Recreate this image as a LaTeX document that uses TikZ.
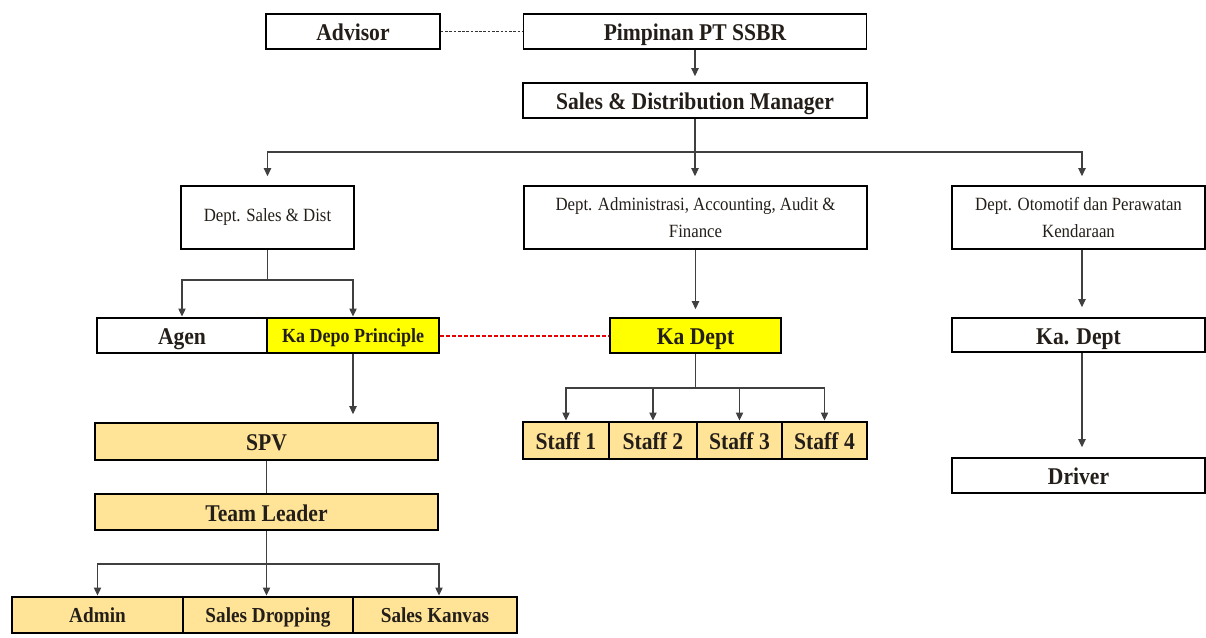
\documentclass[tikz,border=0pt]{standalone}
\usepackage{fontspec}
\setmainfont{Liberation Serif}
\newfontfamily\condf[FakeStretch=0.9]{Liberation Serif}
\usetikzlibrary{arrows.meta,calc}
\definecolor{orgfill}{RGB}{255,227,150}
\definecolor{yelfill}{RGB}{255,255,0}
\definecolor{txt}{RGB}{35,30,25}
\definecolor{dashred}{RGB}{230,0,0}
\begin{document}
\begin{tikzpicture}[x=0.75pt,y=-0.75pt,
  box/.style={draw=black, line width=1.2pt, inner sep=0pt, text=txt,
    text height=17.5pt, text depth=3.5pt,
    font=\condf\bfseries\fontsize{18}{20}\selectfont},
  deptbox/.style={draw=black, line width=1.2pt, inner sep=0pt, text=txt,
    align=center, font=\condf\fontsize{14}{20}\selectfont},
  orgbox/.style={box, fill=orgfill},
  botbox/.style={orgbox, text height=15pt, text depth=3.4pt,
    font=\condf\bfseries\fontsize{16}{18}\selectfont},
  yelbox/.style={box, fill=yelfill},
  conn/.style={draw=black!75, line width=0.8pt},
  arr/.style={conn, -{Triangle[width=5.5pt,length=6pt]}},
  hdash/.style={draw=black!80, line width=0.6pt, dash pattern=on 2pt off 1.2pt},
  rdash/.style={draw=dashred, line width=1.5pt, dash pattern=on 3pt off 1.5pt}]
\useasboundingbox (0,0) rectangle (1206,637);

% top
\node[box, minimum width=130.5pt, minimum height=26.25pt] (adv) at (353,31.5) {Advisor};
\node[box, minimum width=257.25pt, minimum height=26.25pt] (pim) at (695,31.5) {Pimpinan PT SSBR};
\node[box, minimum width=258pt, minimum height=26.25pt] (sdm) at (695,100.5) {Sales \& Distribution Manager};

% departments
\node[deptbox, minimum width=129.75pt, minimum height=47.25pt] (dsales) at (267.5,217.5) {Dept. Sales \& Dist};
\node[deptbox, minimum width=257.25pt, minimum height=47.25pt] (dadm) at (695.5,217.5) {Dept. Administrasi, Accounting, Audit \&\\Finance};
\node[deptbox, minimum width=189.75pt, minimum height=47.25pt] (doto) at (1078.5,217.5) {Dept. Otomotif dan Perawatan\\Kendaraan};

% heads
\node[box, minimum width=127.5pt, minimum height=26.25pt] (agen) at (182,335.5) {Agen};
\node[yelbox, minimum width=129pt, minimum height=26.25pt, text height=14.5pt, text depth=3.5pt, font=\condf\bfseries\fontsize{15}{17}\selectfont] (kadepo) at (353,335.5) {Ka Depo Principle};
\node[yelbox, minimum width=128.25pt, minimum height=26.25pt] (kadept) at (695.5,335.5) {Ka Dept};
\node[box, minimum width=189.75pt, minimum height=25.5pt] (kadept2) at (1078.5,335) {Ka. Dept};
\node[box, minimum width=189.75pt, minimum height=26.25pt] (driver) at (1078.5,475.5) {Driver};

% sales branch
\node[orgbox, minimum width=257.25pt, minimum height=27.75pt] (spv) at (266.5,441.5) {SPV};
\node[orgbox, minimum width=257.25pt, minimum height=27pt] (tl) at (266.5,512) {Team Leader};
\node[botbox, minimum width=128.25pt, minimum height=27pt] (admin) at (97.5,615) {Admin};
\node[botbox, minimum width=127.5pt, minimum height=27pt] (sdrop) at (268,615) {Sales Dropping};
\node[botbox, minimum width=123pt, minimum height=27pt] (skanv) at (435,615) {Sales Kanvas};

% staff
\node[orgbox, minimum width=64.5pt, minimum height=27.75pt] (st1) at (566,440.5) {Staff 1};
\node[orgbox, minimum width=66pt, minimum height=27.75pt] (st2) at (653,440.5) {Staff 2};
\node[orgbox, minimum width=63.75pt, minimum height=27.75pt] (st3) at (739.5,440.5) {Staff 3};
\node[orgbox, minimum width=63.75pt, minimum height=27.75pt] (st4) at (824.5,440.5) {Staff 4};

% junctions
\coordinate (j1) at (695,152);
\coordinate (j2) at (267.5,280);
\coordinate (j3) at (266.5,564);
\coordinate (j4) at (695.5,388);

% connectors
\draw[hdash] (adv.east) -- (pim.west);
\draw[rdash] (kadepo.east) -- (kadept.west);
\draw[arr, shorten >=4.5pt] (pim) -- (sdm);
\draw[conn] (sdm.south) -- (j1);
\draw[arr, shorten >=6.75pt] (j1) -| (dsales.north);
\draw[arr, shorten >=6.75pt] (j1) -- (j1 |- dadm.north);
\draw[arr, shorten >=6.75pt] (j1) -| ([xshift=2.6pt]doto.north);

\draw[conn] (dsales.south) -- (j2);
\draw[arr, shorten >=0.5pt] (j2) -| (agen.north);
\draw[arr, shorten >=0.5pt] (j2) -| (kadepo.north);

\draw[arr, shorten >=6pt] (dadm.south) -- (kadept.north);
\draw[arr, shorten >=7.5pt] ([xshift=2.6pt]doto.south) -- ([xshift=2.6pt]kadept2.north);
\draw[arr, shorten >=7.5pt] ([xshift=2.6pt]kadept2.south) -- ([xshift=2.6pt]driver.north);

\draw[arr, shorten >=6pt] (kadepo.south) -- (kadepo.south |- spv.north);
\draw[conn] (spv.south) -- (spv.south |- tl.north);
\draw[conn] (tl.south) -- (j3);
\draw[arr, shorten >=0.5pt] (j3) -| (admin.north);
\draw[arr, shorten >=0.5pt] (j3) -- (j3 |- sdrop.north);
\draw[arr, shorten >=0.5pt] (j3) -| ([xshift=3pt]skanv.north);

\draw[conn] (kadept.south) -- (j4);
\draw[arr, shorten >=0.5pt] (j4) -| (st1.north);
\draw[arr, shorten >=0.5pt] (j4) -| (st2.north);
\draw[arr, shorten >=0.5pt] (j4) -| (st3.north);
\draw[arr, shorten >=0.5pt] (j4) -| (st4.north);
\end{tikzpicture}
\end{document}
